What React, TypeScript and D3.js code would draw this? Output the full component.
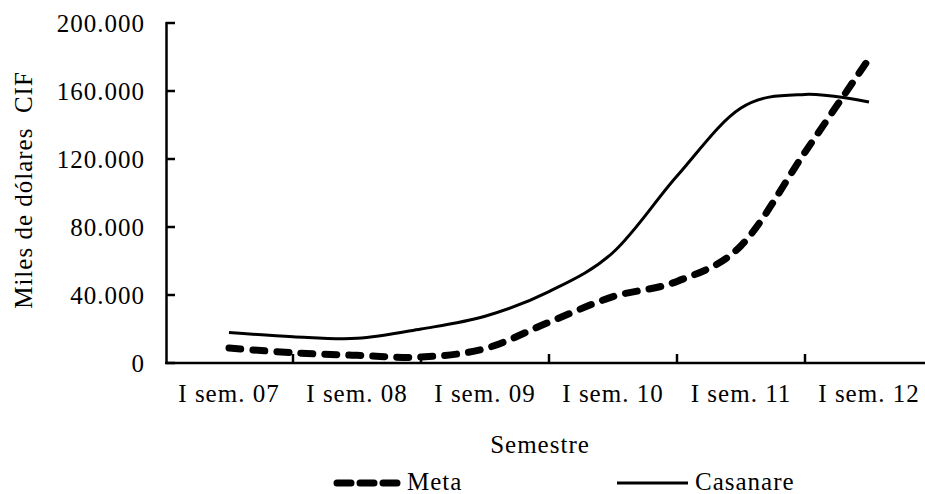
import React, { useEffect, useRef } from 'react';
import * as d3 from 'd3';

// semesters (data points) and the labelled categories on the axis
const semesters = [
    'I sem. 07', 'II sem. 07', 'I sem. 08', 'II sem. 08', 'I sem. 09', 'II sem. 09',
    'I sem. 10', 'II sem. 10', 'I sem. 11', 'II sem. 11', 'I sem. 12',
];
const categories = ['I sem. 07', 'I sem. 08', 'I sem. 09', 'I sem. 10', 'I sem. 11', 'I sem. 12'];

// miles de dólares CIF
const meta = [8800, 6000, 4500, 3500, 8500, 24000, 39000, 48000, 69000, 124000, 179000];
const casanare = [18000, 15500, 14500, 20000, 27500, 42000, 65000, 110000, 150000, 158000, 153500];

const yTicks = [0, 40000, 80000, 120000, 160000, 200000];

const W = 925;
const H = 494;

export default function App() {
    const svgRef = useRef<SVGSVGElement>(null);

    useEffect(() => {
        if (!svgRef.current) return;
        const svg = d3.select(svgRef.current);
        svg.selectAll('*').remove();

        const font = '"Liberation Serif", "Times New Roman", serif';
        const fs = '25px';

        const x = d3.scaleBand<string>().domain(categories).range([165, 933]);
        const xp = d3.scalePoint<string>()
            .domain(semesters)
            .range([x(categories[0])! + x.bandwidth() / 2, x(categories[categories.length - 1])! + x.bandwidth() / 2]);
        const y = d3.scaleLinear().domain([0, 200000]).range([363, 23]);

        const fmt = d3.formatLocale({ decimal: ',', thousands: '.', grouping: [3], currency: ['', ''] }).format(',');

        // y axis
        svg.append('line')
            .attr('x1', 166.5).attr('x2', 166.5)
            .attr('y1', y(200000) - 1).attr('y2', y(0) + 1)
            .attr('stroke', '#000').attr('stroke-width', 2.5);
        svg.selectAll('.ytick')
            .data(yTicks)
            .join('line')
            .attr('x1', 166).attr('x2', 175)
            .attr('y1', d => y(d)).attr('y2', d => y(d))
            .attr('stroke', '#000').attr('stroke-width', 2.5);
        svg.selectAll('.ylab')
            .data(yTicks)
            .join('text')
            .attr('x', 145)
            .attr('y', d => y(d))
            .attr('dy', '0.35em')
            .attr('text-anchor', 'end')
            .style('font-family', font).style('font-size', fs).style('letter-spacing', '1px')
            .text(d => fmt(d));

        // x axis
        svg.append('line')
            .attr('x1', 165).attr('x2', 933)
            .attr('y1', y(0)).attr('y2', y(0))
            .attr('stroke', '#000').attr('stroke-width', 2.5);
        svg.selectAll('.xtick')
            .data(categories.slice(1))
            .join('line')
            .attr('x1', d => x(d)!).attr('x2', d => x(d)!)
            .attr('y1', y(0)).attr('y2', y(0) - 9)
            .attr('stroke', '#000').attr('stroke-width', 2.5);
        svg.selectAll('.xlab')
            .data(categories)
            .join('text')
            .attr('x', d => x(d)! + x.bandwidth() / 2)
            .attr('y', 402)
            .attr('text-anchor', 'middle')
            .style('font-family', font).style('font-size', fs).style('letter-spacing', '1px')
            .text(d => d);

        // axis titles
        svg.append('text')
            .attr('x', 540).attr('y', 453)
            .attr('text-anchor', 'middle')
            .style('font-family', font).style('font-size', fs).style('letter-spacing', '1px')
            .text('Semestre');
        svg.append('text')
            .attr('transform', 'translate(32,190) rotate(-90)')
            .attr('text-anchor', 'middle')
            .style('font-family', font).style('font-size', fs).style('letter-spacing', '1px')
            .style('white-space', 'pre')
            .text('Miles de dólares  CIF');

        // lines
        const line = d3.line<number>()
            .x((_, i) => xp(semesters[i])!)
            .y(d => y(d))
            .curve(d3.curveCatmullRom.alpha(0));

        svg.append('path')
            .attr('d', line(casanare)!)
            .attr('fill', 'none').attr('stroke', '#000').attr('stroke-width', 3);
        svg.append('path')
            .attr('d', line(meta)!)
            .attr('fill', 'none').attr('stroke', '#000').attr('stroke-width', 7)
            .attr('stroke-linecap', 'round')
            .attr('stroke-dasharray', '12 12');

        // legend
        svg.append('line')
            .attr('x1', 337).attr('x2', 397).attr('y1', 483).attr('y2', 483)
            .attr('stroke', '#000').attr('stroke-width', 7)
            .attr('stroke-linecap', 'round').attr('stroke-dasharray', '14 9');
        svg.append('text')
            .attr('x', 407).attr('y', 490)
            .style('font-family', font).style('font-size', fs).style('letter-spacing', '1px')
            .text('Meta');
        svg.append('line')
            .attr('x1', 617).attr('x2', 688).attr('y1', 483).attr('y2', 483)
            .attr('stroke', '#000').attr('stroke-width', 3);
        svg.append('text')
            .attr('x', 695).attr('y', 490)
            .style('font-family', font).style('font-size', fs).style('letter-spacing', '1px')
            .text('Casanare');
    }, []);

    return (
        <div style={{ position: 'absolute', left: 0, top: 0, width: W, height: H, overflow: 'hidden', background: '#fff' }}>
            <svg ref={svgRef} width={W} height={H} style={{ display: 'block' }}></svg>
        </div>
    );
}
